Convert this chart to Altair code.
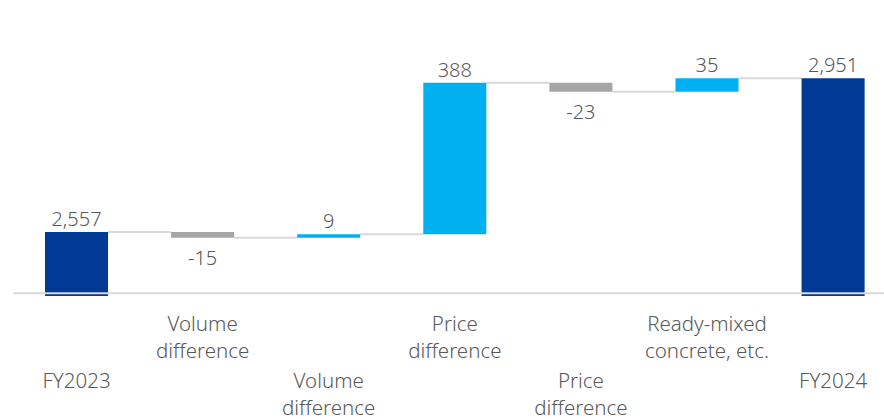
import altair as alt
import pandas as pd

categories = ["FY2023", "Volume difference", "Volume difference", "Price difference",
              "Price difference", "Ready-mixed concrete, etc.", "FY2024"]
label_lines = [["FY2023"], ["Volume", "difference"], ["Volume", "difference"],
               ["Price", "difference"], ["Price", "difference"],
               ["Ready-mixed", "concrete, etc."], ["FY2024"]]
values = [2557, -15, 9, 388, -23, 35, 2951]
kinds = ["total", "delta", "delta", "delta", "delta", "delta", "total"]
label_row = ["lower", "upper", "lower", "upper", "lower", "upper", "lower"]

AXIS_BASE = 2400
Y_MIN, Y_MAX = 2393, 3100
X_MIN, X_MAX = -0.6067, 6.4036

NAVY = "#003A94"
LIGHT = "#00B0F0"
GRAY = "#A6A6A6"
TEXT = "#595959"
LINE = "#D9D9D9"
FONT = "Noto Sans"

rows = []
running = 0
for i, (c, v, k) in enumerate(zip(categories, values, kinds)):
    if k == "total":
        start, end = Y_MIN, v
        running = v
        color = NAVY
    else:
        start, end = running, running + v
        running = running + v
        color = LIGHT if v > 0 else GRAY
    rows.append(dict(idx=float(i), cat=c, value=float(v), start=float(start), end=float(end),
                     top=float(max(start, end)), bottom=float(min(start, end)), color=color,
                     label=f"{v:,}", running=float(running),
                     lines="\n".join(label_lines[i]), row=label_row[i]))
df = pd.DataFrame(rows)
df["xl"] = df["idx"] - 0.25
df["xr"] = df["idx"] + 0.25

conn = pd.DataFrame([dict(x=df.idx[i] + 0.25, x2=df.idx[i + 1] - 0.25, y=df.running[i])
                     for i in range(len(df) - 1)])
base = pd.DataFrame([dict(x=-0.5, x2=X_MAX, y=float(AXIS_BASE))])

xs = alt.Scale(domain=[X_MIN, X_MAX], nice=False, zero=False)
ys = alt.Scale(domain=[Y_MIN, Y_MAX], nice=False, zero=False)

bars = alt.Chart(df).mark_bar().encode(
    x=alt.X("xl:Q", scale=xs, axis=None),
    x2="xr:Q",
    y=alt.Y("start:Q", scale=ys, axis=None),
    y2="end:Q",
    color=alt.Color("color:N", scale=None),
)

connectors = alt.Chart(conn).mark_rule(color=LINE, strokeWidth=2).encode(
    x=alt.X("x:Q", scale=xs, axis=None), x2="x2:Q", y=alt.Y("y:Q", scale=ys, axis=None)
)

baseline = alt.Chart(base).mark_rule(color=LINE, strokeWidth=2).encode(
    x=alt.X("x:Q", scale=xs, axis=None), x2="x2:Q", y=alt.Y("y:Q", scale=ys, axis=None)
)

pos_labels = alt.Chart(df[(df.value > 0)]).mark_text(
    font=FONT, fontSize=20, fontWeight=300, color=TEXT, baseline="alphabetic", dy=-6
).encode(x=alt.X("idx:Q", scale=xs, axis=None), y=alt.Y("top:Q", scale=ys, axis=None),
         text="label:N")

neg_labels = alt.Chart(df[df.value < 0]).mark_text(
    font=FONT, fontSize=20, fontWeight=300, color=TEXT, baseline="alphabetic", dy=27.5
).encode(x=alt.X("idx:Q", scale=xs, axis=None), y=alt.Y("bottom:Q", scale=ys, axis=None),
         text="label:N")

upper = alt.Chart(df[df.row == "upper"]).mark_text(
    font=FONT, fontSize=20.5, fontWeight=300, color=TEXT, baseline="alphabetic",
    lineHeight=27.3, lineBreak="\n"
).encode(x=alt.X("idx:Q", scale=xs, axis=None), y=alt.value(311), text="lines:N")

lower = alt.Chart(df[df.row == "lower"]).mark_text(
    font=FONT, fontSize=20.5, fontWeight=300, color=TEXT, baseline="alphabetic",
    lineHeight=27.3, lineBreak="\n"
).encode(x=alt.X("idx:Q", scale=xs, axis=None), y=alt.value(367.5), text="lines:N")

chart = alt.layer(connectors, bars, baseline, pos_labels, neg_labels, upper, lower).properties(
    width=884, height=276,
    padding={"left": 0, "right": 0, "top": 20, "bottom": 123},
    autosize=alt.AutoSizeParams(type="none"),
).configure_view(stroke=None)

chart.save("out.html", embed_options={"renderer": "svg", "actions": False})
